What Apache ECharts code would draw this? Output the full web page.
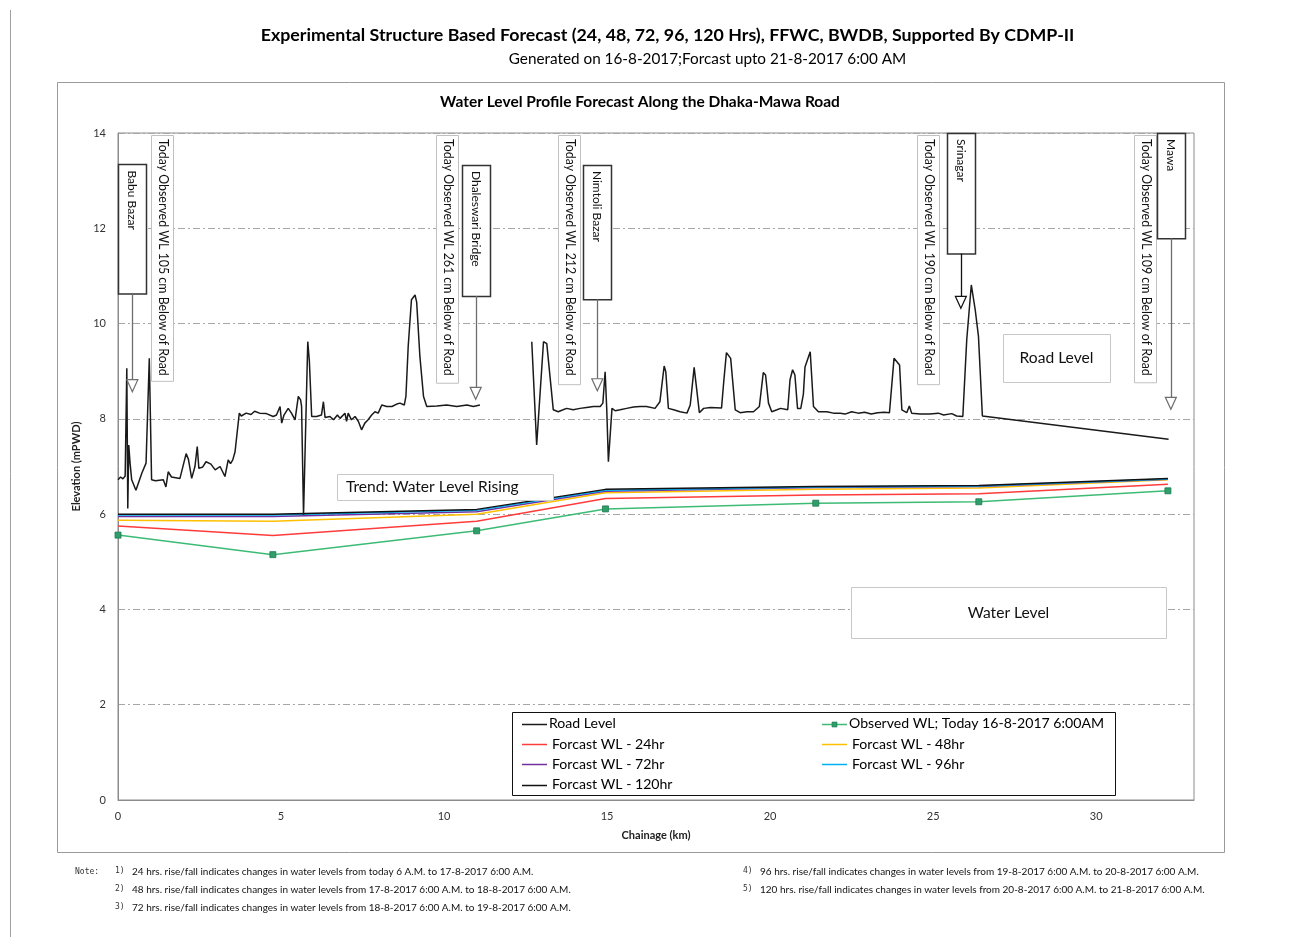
<!DOCTYPE html>
<html>
<head>
<meta charset="utf-8">
<script src="https://cdn.jsdelivr.net/npm/echarts@6/dist/echarts.min.js"></script>
<style>
  html, body { margin: 0; padding: 0; background: #fff; }
  #chart { width: 1311px; height: 937px; }
</style>
</head>
<body>
<div id="chart"></div>
<script>
const FONT = 'Lato, "Open Sans", sans-serif';

// Road crest profile along the Dhaka-Mawa road (chainage km / elevation mPWD).
// A null entry breaks the line where no survey data exists.
const roadKm = [
  0.00, 0.08, 0.15, 0.22, 0.27, 0.30, 0.33, 0.37, 0.42, 0.55, 0.73, 0.86, 0.96, 1.03, 1.15, 1.39,
  1.47, 1.54, 1.64, 1.90, 2.09, 2.16, 2.26, 2.36, 2.43, 2.48, 2.60, 2.70, 2.85, 2.98, 3.13, 3.28,
  3.38, 3.45, 3.52, 3.59, 3.72, 3.78, 3.93, 4.08, 4.19, 4.34, 4.55, 4.76, 4.86, 4.97, 5.02, 5.09,
  5.22, 5.32, 5.43, 5.53, 5.60, 5.63, 5.69, 5.82, 5.87, 5.94, 6.09, 6.24, 6.30, 6.35, 6.50, 6.61,
  6.73, 6.81, 6.96, 7.01, 7.06, 7.16, 7.27, 7.37, 7.47, 7.57, 7.67, 7.78, 7.88, 7.98, 8.09, 8.24,
  8.40, 8.55, 8.65, 8.78, 8.83, 8.90, 9.00, 9.11, 9.16, 9.26, 9.37, 9.47, 9.78, 10.08, 10.39, 10.70,
  10.90, 11.10,
  null,
  12.69, 12.84, 13.05, 13.15, 13.35, 13.50, 13.65, 13.76, 13.96, 14.17, 14.37, 14.58, 14.79, 14.87,
  14.94, 14.99, 15.04, 15.15, 15.25, 15.40, 15.60, 15.81, 16.01, 16.21, 16.47, 16.62, 16.75, 16.80,
  16.88, 17.04, 17.24, 17.45, 17.55, 17.67, 17.75, 17.83, 17.96, 18.17, 18.51, 18.58, 18.66, 18.79,
  18.93, 19.08, 19.29, 19.49, 19.67, 19.79, 19.86, 19.95, 20.05, 20.21, 20.32, 20.54, 20.61, 20.69,
  20.76, 20.84, 20.94, 21.02, 21.07, 21.23, 21.33, 21.48, 21.74, 21.94, 22.15, 22.30, 22.50, 22.70,
  22.90, 23.10, 23.30, 23.50, 23.66, 23.80, 23.97, 24.04, 24.19, 24.27, 24.34, 24.60, 24.90, 25.16,
  25.32, 25.57, 25.72, 25.91, 26.03, 26.17, 26.29, 26.39, 26.51, 32.22
];
const roadLevel = [
  6.72, 6.78, 6.74, 6.80, 9.06, 6.12, 7.45, 7.07, 6.72, 6.50, 6.86, 7.07, 9.27, 6.72, 6.70, 6.72,
  6.57, 6.89, 6.78, 6.75, 7.27, 7.15, 6.75, 7.00, 7.42, 6.96, 6.99, 7.10, 7.05, 6.93, 7.00, 6.79,
  7.14, 7.06, 7.14, 7.31, 8.12, 8.06, 8.12, 8.09, 8.16, 8.12, 8.11, 8.05, 8.08, 8.26, 7.91, 8.08,
  8.22, 8.12, 7.98, 8.47, 8.40, 8.26, 5.98, 9.62, 9.20, 8.05, 8.05, 8.08, 8.36, 8.03, 8.05, 7.98,
  8.08, 8.01, 8.12, 7.95, 8.12, 7.98, 8.05, 7.95, 7.77, 7.91, 7.98, 8.08, 8.15, 8.12, 8.29, 8.26,
  8.26, 8.31, 8.33, 8.29, 8.47, 9.52, 10.50, 10.60, 10.45, 9.30, 8.47, 8.26, 8.27, 8.29, 8.26, 8.29,
  8.26, 8.29,
  null,
  9.62, 7.45, 9.62, 9.58, 8.19, 8.15, 8.19, 8.22, 8.19, 8.22, 8.24, 8.26, 8.26, 8.33,
  8.99, 8.19, 7.10, 8.22, 8.17, 8.19, 8.22, 8.25, 8.26, 8.26, 8.22, 8.36, 9.11, 8.99,
  8.22, 8.19, 8.15, 8.12, 8.29, 9.08, 8.61, 8.13, 8.22, 8.24, 8.23, 8.80, 9.39, 9.27,
  8.19, 8.13, 8.15, 8.15, 8.26, 8.97, 8.92, 8.33, 8.15, 8.19, 8.22, 8.19, 8.82, 9.03,
  8.92, 8.22, 8.22, 8.52, 9.09, 9.41, 8.26, 8.15, 8.15, 8.12, 8.12, 8.10, 8.15, 8.12,
  8.14, 8.10, 8.13, 8.14, 8.13, 9.27, 9.13, 8.19, 8.13, 8.27, 8.12, 8.10, 8.10, 8.12,
  8.08, 8.11, 8.06, 8.05, 9.66, 10.81, 10.29, 9.73, 8.06, 7.57
];

// Water level stations (chainage km) with observed and forecast levels (mPWD)
const wlKm       = [0.00, 4.75, 11.00, 14.95, 21.40, 26.40, 32.20];
const observedWL = [5.56, 5.15, 5.65, 6.11, 6.23, 6.26, 6.49];
const fc24hr     = [5.75, 5.55, 5.85, 6.33, 6.40, 6.43, 6.63];
const fc48hr     = [5.87, 5.85, 6.00, 6.45, 6.52, 6.55, 6.72];
const fc72hr     = [5.95, 5.95, 6.05, 6.48, 6.56, 6.58, 6.73];
const fc96hr     = [5.98, 5.98, 6.08, 6.50, 6.57, 6.59, 6.74];
const fc120hr    = [6.00, 6.00, 6.10, 6.52, 6.58, 6.60, 6.75];

// Station call-outs: name, chainage, box top/bottom and arrow tip (mPWD)
const stationNames  = ['Babu Bazar', 'Dhaleswari Bridge', 'Nimtoli Bazar', 'Srinagar', 'Mawa'];
const stationKm     = [0.44, 10.97, 14.70, 25.85, 32.29];
const stationBoxTop = [13.34, 13.33, 13.33, 14.00, 14.00];
const stationBoxBot = [10.62, 10.58, 10.51, 11.47, 11.79];
const stationTip    = [8.57, 8.41, 8.59, 10.32, 8.20];

// Observed depth-below-road notes
const depthNotes = [
  'Today Observed WL 105 cm Below of Road',
  'Today Observed WL 261 cm Below of Road',
  'Today Observed WL 212 cm Below of Road',
  'Today Observed WL 190 cm Below of Road',
  'Today Observed WL 109 cm Below of Road'
];
const depthNoteKm = [1.36, 10.08, 13.83, 24.84, 31.51];
const depthNoteTop = 13.96;
const depthNoteBot = [8.80, 8.76, 8.73, 8.73, 8.77];

const footNotes = [
  '24 hrs. rise/fall indicates changes in water levels from today 6 A.M. to 17-8-2017 6:00 A.M.',
  '48 hrs. rise/fall indicates changes in water levels from 17-8-2017 6:00 A.M. to 18-8-2017 6:00 A.M.',
  '72 hrs. rise/fall indicates changes in water levels from 18-8-2017 6:00 A.M. to 19-8-2017 6:00 A.M.',
  '96 hrs. rise/fall indicates changes in water levels from 19-8-2017 6:00 A.M. to 20-8-2017 6:00 A.M.',
  '120 hrs. rise/fall indicates changes in water levels from 20-8-2017 6:00 A.M. to 21-8-2017 6:00 A.M.'
];

const xMin = 0, xMax = 33, xStep = 5;
const yMin = 0, yMax = 14, yStep = 2;

const COLORS = {
  road: '#1a1a1a', observed: '#3dbb74', fc24: '#ff3b3b', fc48: '#ffc000',
  fc72: '#7030a0', fc96: '#00b0f0', fc120: '#111111'
};

const pairs = (xs, ys) => xs.map((x, i) => (x == null ? ['-', '-'] : [x, ys[i]]));

function wlSeries(name, values, color) {
  return {
    name, type: 'line', data: pairs(wlKm, values), symbol: 'none',
    lineStyle: { color, width: 1.5 }, itemStyle: { color }, z: 3
  };
}

const chart = echarts.init(document.getElementById('chart'), null, { renderer: 'canvas' });

chart.setOption({
  animation: false,
  backgroundColor: '#fff',
  grid: {
    left: 118, right: 117, top: 133, bottom: 137,
    show: true, borderColor: '#8c8c8c', borderWidth: 1
  },
  xAxis: {
    type: 'value', min: xMin, max: xMax, interval: xStep,
    name: 'Chainage (km)', nameLocation: 'middle', nameGap: 30,
    nameTextStyle: { fontFamily: FONT, fontSize: 11, fontWeight: 'bold', color: '#222' },
    axisLine: { show: true, lineStyle: { color: '#8c8c8c' } },
    axisTick: { show: false },
    axisLabel: { fontFamily: FONT, fontSize: 11, color: '#333', margin: 11, showMaxLabel: false },
    splitLine: { show: false }
  },
  yAxis: {
    type: 'value', min: yMin, max: yMax, interval: yStep,
    name: 'Elevation (mPWD)', nameLocation: 'middle', nameGap: 34, nameRotate: 90,
    nameTextStyle: { fontFamily: FONT, fontSize: 11, fontWeight: 'bold', color: '#222' },
    axisLine: { show: true, lineStyle: { color: '#8c8c8c' } },
    axisTick: { show: false },
    axisLabel: { fontFamily: FONT, fontSize: 11, color: '#333', margin: 12 },
    splitLine: { show: true, lineStyle: { color: '#a6a6a6', width: 1, type: [7, 3, 2, 3] } }
  },
  series: [
    {
      name: 'Observed WL; Today 16-8-2017 6:00AM', type: 'line', data: pairs(wlKm, observedWL),
      symbol: 'rect', symbolSize: 6,
      lineStyle: { color: COLORS.observed, width: 1.5 },
      itemStyle: { color: '#2f9e6a', borderColor: '#1f7a50', borderWidth: 0.8 }, z: 3
    },
    wlSeries('Forcast WL - 24hr', fc24hr, COLORS.fc24),
    wlSeries('Forcast WL - 48hr', fc48hr, COLORS.fc48),
    wlSeries('Forcast WL - 72hr', fc72hr, COLORS.fc72),
    wlSeries('Forcast WL - 96hr', fc96hr, COLORS.fc96),
    wlSeries('Forcast WL - 120hr', fc120hr, COLORS.fc120),
    {
      name: 'Road Level', type: 'line', data: pairs(roadKm, roadLevel), symbol: 'none',
      connectNulls: false, lineStyle: { color: COLORS.road, width: 1.5 }, itemStyle: { color: COLORS.road }, z: 4
    }
  ]
});

// Call-outs, titles, legend and notes; data-related items are placed through the axis scales
const px = (km, v) => chart.convertToPixel({ gridIndex: 0 }, [km, v]);
const g = [];

// page edge and chart frame
g.push({ type: 'line', shape: { x1: 10.5, y1: 10, x2: 10.5, y2: 937 }, style: { stroke: '#a0a0a0', lineWidth: 1 }, z: 0 });
g.push({ type: 'rect', shape: { x: 57.5, y: 82.5, width: 1167, height: 770 }, style: { fill: 'none', stroke: '#9a9a9a', lineWidth: 1 }, z: 0 });

// titles
g.push({ type: 'text', x: 667.5, y: 35, style: { text: 'Experimental Structure Based Forecast (24, 48, 72, 96, 120 Hrs), FFWC, BWDB, Supported By CDMP-II', font: 'bold 17.8px ' + FONT, fill: '#000', textAlign: 'center', textVerticalAlign: 'middle' }, z: 5 });
g.push({ type: 'text', x: 707.5, y: 59, style: { text: 'Generated on 16-8-2017;Forcast upto 21-8-2017 6:00 AM', font: '15.3px ' + FONT, fill: '#000', textAlign: 'center', textVerticalAlign: 'middle' }, z: 5 });
g.push({ type: 'text', x: 640, y: 102, style: { text: 'Water Level Profile Forecast Along the Dhaka-Mawa Road', font: 'bold 15.5px ' + FONT, fill: '#000', textAlign: 'center', textVerticalAlign: 'middle' }, z: 5 });

// depth-below-road notes
depthNotes.forEach((t, i) => {
  const [cx, top] = px(depthNoteKm[i], depthNoteTop);
  const bot = px(depthNoteKm[i], depthNoteBot[i])[1];
  g.push({ type: 'rect', shape: { x: Math.round(cx - 11) + 0.5, y: Math.round(top) + 0.5, width: 22, height: bot - top }, style: { fill: '#fff', stroke: '#c0c0c0', lineWidth: 1 }, z: 6 });
  g.push({ type: 'text', x: cx + 1, y: top + 4, rotation: -Math.PI / 2, style: { text: t, font: '12.4px ' + FONT, fill: '#111', textAlign: 'left', textVerticalAlign: 'middle' }, z: 7 });
});

// station boxes with arrows
stationNames.forEach((t, i) => {
  const [cx, top] = px(stationKm[i], stationBoxTop[i]);
  const bot = px(stationKm[i], stationBoxBot[i])[1];
  const tip = px(stationKm[i], stationTip[i])[1];
  const arrowColor = i === 3 ? '#111' : '#6e6e6e';
  g.push({ type: 'rect', shape: { x: Math.round(cx - 14) + 0.5, y: Math.round(top) + 0.5, width: 28, height: bot - top }, style: { fill: '#fff', stroke: '#333', lineWidth: 1.5 }, z: 6 });
  g.push({ type: 'text', x: cx, y: top + 6, rotation: -Math.PI / 2, style: { text: t, font: '12px ' + FONT, fill: '#111', textAlign: 'left', textVerticalAlign: 'middle' }, z: 7 });
  g.push({ type: 'line', shape: { x1: Math.round(cx) + 0.5, y1: bot, x2: Math.round(cx) + 0.5, y2: tip - 12 }, style: { stroke: arrowColor, lineWidth: 1.3 }, z: 6 });
  g.push({ type: 'polygon', shape: { points: [[cx - 5.5, tip - 12], [cx + 5.5, tip - 12], [cx, tip]] }, style: { fill: '#fff', stroke: arrowColor, lineWidth: 1.2 }, z: 6 });
});

// labelled text boxes
const boxes = [
  { x: 1003, y: 334, w: 107, h: 48, text: 'Road Level', align: 'center' },
  { x: 851, y: 587, w: 315, h: 51, text: 'Water Level', align: 'center' },
  { x: 337, y: 474, w: 216, h: 26, text: 'Trend: Water Level Rising', align: 'left' }
];
boxes.forEach(b => {
  g.push({ type: 'rect', shape: { x: b.x + 0.5, y: b.y + 0.5, width: b.w, height: b.h }, style: { fill: '#fff', stroke: '#c8c8c8', lineWidth: 1 }, z: 6 });
  g.push({ type: 'text', x: b.align === 'center' ? b.x + b.w / 2 : b.x + 9, y: b.y + b.h / 2, style: { text: b.text, font: '15.6px ' + FONT, fill: '#111', textAlign: b.align, textVerticalAlign: 'middle' }, z: 7 });
});

// legend: frame plus two columns of line samples
g.push({ type: 'rect', shape: { x: 512.5, y: 712.5, width: 603, height: 83 }, style: { fill: '#fff', stroke: '#111', lineWidth: 1 }, z: 5 });
const legendItems = [
  { name: 'Road Level', color: COLORS.road, col: 0, row: 0, gap: 2 },
  { name: 'Forcast WL - 24hr', color: COLORS.fc24, col: 0, row: 1, gap: 5 },
  { name: 'Forcast WL - 72hr', color: COLORS.fc72, col: 0, row: 2, gap: 5 },
  { name: 'Forcast WL - 120hr', color: COLORS.fc120, col: 0, row: 3, gap: 5 },
  { name: 'Observed WL; Today 16-8-2017 6:00AM', color: COLORS.observed, col: 1, row: 0, gap: 2, marker: true },
  { name: 'Forcast WL - 48hr', color: COLORS.fc48, col: 1, row: 1, gap: 5 },
  { name: 'Forcast WL - 96hr', color: COLORS.fc96, col: 1, row: 2, gap: 5 }
];
const legendColX = [522, 822];
const legendRowY = [723.5, 744, 764, 784.5];
legendItems.forEach(it => {
  const x0 = legendColX[it.col], y = legendRowY[it.row];
  g.push({ type: 'line', shape: { x1: x0, y1: Math.round(y) + 0.5, x2: x0 + 25, y2: Math.round(y) + 0.5 }, style: { stroke: it.color, lineWidth: 1.5 }, z: 6 });
  if (it.marker) {
    g.push({ type: 'rect', shape: { x: x0 + 10, y: Math.round(y) - 2, width: 5, height: 5 }, style: { fill: '#2f9e6a', stroke: '#1f7a50', lineWidth: 0.6 }, z: 7 });
  }
  g.push({ type: 'text', x: x0 + 25 + it.gap, y: y, style: { text: it.name, font: '14.1px ' + FONT, fill: '#000', textVerticalAlign: 'middle' }, z: 6 });
});

// footnotes
g.push({ type: 'text', x: 75, y: 872, style: { text: 'Note:', font: '8px "DejaVu Sans Mono", monospace', fill: '#333', textVerticalAlign: 'middle' }, z: 5 });
const noteRows = [[115, 132, 872], [115, 132, 890], [115, 132, 908], [743, 760, 872], [743, 760, 890]];
footNotes.forEach((t, i) => {
  const [nx, tx, ty] = noteRows[i];
  g.push({ type: 'text', x: nx, y: ty - 1, style: { text: (i + 1) + ')', font: '8px "DejaVu Sans Mono", monospace', fill: '#333', textVerticalAlign: 'middle' }, z: 5 });
  g.push({ type: 'text', x: tx, y: ty, style: { text: t, font: '10px ' + FONT, fill: '#111', textVerticalAlign: 'middle' }, z: 5 });
});

chart.setOption({ graphic: g });
</script>
</body>
</html>
